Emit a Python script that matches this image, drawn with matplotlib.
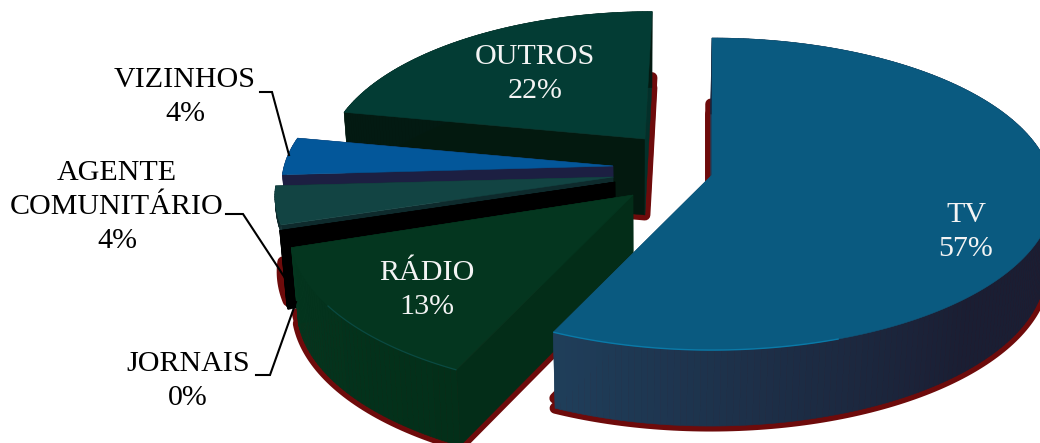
import numpy as np
import matplotlib
matplotlib.use("Agg")
import matplotlib.pyplot as plt
from matplotlib.colors import to_rgb

# ---- data ----
categories = ["TV", "RÁDIO", "JORNAIS", "AGENTE\nCOMUNITÁRIO", "VIZINHOS", "OUTROS"]
values = [57, 13, 0.3, 4, 4, 22]

# ---- style / layout ----
top_colors = ["#0a5a80", "#04361f", "#000000", "#124443", "#03579a", "#033c34"]
wall_start = ["#1f3e5a", "#04361f", "#000000", "#0e2a2c", "#1c1f42", "#031a12"]
wall_end = ["#1a1e33", "#032f19", "#000000", "#0e2a2c", "#1c1f42", "#031a12"]
cut_first = ["#1f3e5a", "#032d18", "#000000", "#0e2a2c", "#1c1f42", "#03190f"]
cut_last = ["#1f3e5a", "#032d18", "#000000", "#0e2a2c", "#1c1f42", "#03302a"]
# centre x, centre y, scale, perspective, shear
layout = [
    (712, 175, 1.00, 0.122, 0.0),
    (633, 195, 0.984, 0.235, 0.0),
    (615, 182, 1.00, 0.122, 0.0),
    (613, 177, 0.99, 0.122, 0.0),
    (613, 166, 0.97, 0.122, 0.0),
    (645, 139, 0.93, 0.122, 0.056),
]
wall_depth = [76.0, 76.0, 76.0, 10.0, 12.0, 76.0]
shadow_mode = ["full", "full", "none", "low", "none", "full"]
label_pos = [(966, 232), (427, 290), (188, 381), (117, 207), (185, 97), (535, 74)]
label_color = ["#f4f4f4", "#f4f4f4", "black", "black", "black", "#f4f4f4"]
leaders = {
    2: [(256, 375), (270, 375), (296, 302)],
    3: [(226, 214), (243, 214), (285, 278)],
    4: [(260, 92), (272, 92), (289, 155)],
}
RX, RY, DEPTH, VX = 339.0, 153.7, 76.0, 640.0
SHADOW = "#6e0b0b"

fig = plt.figure(figsize=(10.4, 4.43), dpi=100, facecolor="white")
ax = fig.add_axes([0, 0, 1, 1])
ax.set_xlim(0, 1040)
ax.set_ylim(443, 0)
ax.axis("off")


def project(theta, radius, lay, depth=0.0):
    cx, cy, s, k, sh = lay
    u = np.sin(theta) * radius
    v = np.cos(theta) * radius
    f = 1.0 / (1.0 + k * v)
    dx = RX * s * u * f
    dy = RY * s * v * f
    x = cx + dx + sh * dy
    y = cy - dy
    x = VX + (x - VX) * (1 - 0.02 * depth / DEPTH)
    return x, y + depth


def mix(a, b, t):
    a, b = np.array(to_rgb(a)), np.array(to_rgb(b))
    return tuple(a + (b - a) * t)


shares = np.array(values, dtype=float) / np.sum(values)
edges = np.concatenate([[0], np.cumsum(shares)]) * 2 * np.pi
slices = []
for i in range(len(values)):
    n = max(3, int(np.degrees(edges[i + 1] - edges[i])) + 2)
    slices.append(np.linspace(edges[i], edges[i + 1], n))


def face(i, depth):
    xs, ys = project(slices[i], 1.0, layout[i], depth)
    ax_, ay_ = project(0.0, 0.0, layout[i], depth)
    return np.r_[ax_, xs], np.r_[ay_, ys]


# shadows
for i, mode in enumerate(shadow_mode):
    if mode == "none":
        continue
    depths = (66, DEPTH) if mode == "full" else (DEPTH,)
    for d in depths:
        x, y = face(i, d)
        ax.fill(x, y, facecolor=SHADOW, edgecolor=SHADOW, lw=7.9,
                joinstyle="round", zorder=1)

# slices, back to front
order = [5, 4, 3, 2, 1, 0]
z = 2
for i in order:
    th = slices[i]
    lay = layout[i]
    d = wall_depth[i]
    ax0, ay0 = project(0.0, 0.0, lay)
    bx0, by0 = project(0.0, 0.0, lay, d)
    # straight cut walls
    for t, col in ((th[0], cut_first[i]), (th[-1], cut_last[i])):
        x1, y1 = project(t, 1.0, lay)
        x2, y2 = project(t, 1.0, lay, d)
        ax.fill([ax0, x1, x2, bx0], [ay0, y1, y2, by0], facecolor=col,
                edgecolor=col, lw=0.3, zorder=z)
    z += 1
    # curved wall with colour running along it
    for j in range(len(th) - 1):
        x1, y1 = project(th[j], 1.0, lay)
        x2, y2 = project(th[j + 1], 1.0, lay)
        x3, y3 = project(th[j + 1], 1.0, lay, d)
        x4, y4 = project(th[j], 1.0, lay, d)
        t = 1 - j / max(1, len(th) - 2)
        if i == 0:
            t = min(1.0, t / 0.33)
        col = mix(wall_start[i], wall_end[i], t)
        ax.fill([x1, x2, x3, x4], [y1, y2, y3, y4], facecolor=col, edgecolor=col,
                lw=0.4, zorder=z)
    z += 1
    x, y = face(i, 0)
    ax.fill(x, y, facecolor=top_colors[i], edgecolor=top_colors[i], lw=0.4, zorder=z)
    z += 1

# light rims along the front edge of the two nearest slices
rx_, ry_ = project(slices[0][slices[0] > np.radians(160)], 1.0, layout[0])
ax.plot(rx_, ry_, color="#0a7aa8", lw=1.0, zorder=z, solid_capstyle="butt")
rx_, ry_ = project(slices[1][slices[1] < np.radians(232)], 1.0, layout[1])
ax.plot(rx_, ry_, color="#0a4a42", lw=0.9, zorder=z, solid_capstyle="butt")
z += 1

# leader lines
for pts in leaders.values():
    xs, ys = zip(*pts)
    ax.plot(xs, ys, color="black", lw=1.5, zorder=z, solid_joinstyle="miter")
z += 1

# labels
for cat, val, pos, col in zip(categories, values, label_pos, label_color):
    ax.text(pos[0], pos[1], f"{cat}\n{round(val)}%", color=col, ha="center", va="center",
            family="Liberation Serif", fontsize=21.6, linespacing=1.42, zorder=z)

fig.savefig("out.png", dpi=100, facecolor="white")
